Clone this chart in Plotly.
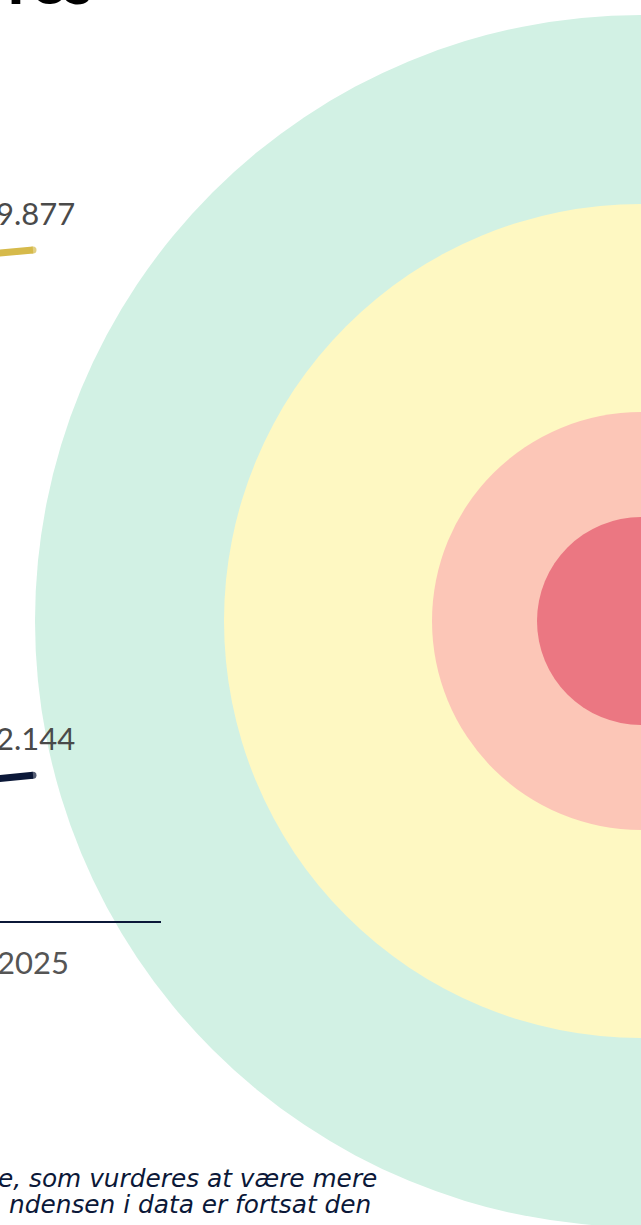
import plotly.graph_objects as go

W, H = 641, 1225

# ---- data ----
years = [2024, 2025]
series_gold = [9795, 9877]
series_navy = [2062, 2144]
label_gold = "9.877"
label_navy = "2.144"
tick_years = [2025]
tick_labels = ["2025"]

# concentric decorative circles (radius in px) and colours
ring_radii = [606, 417, 209, 104]
ring_colors = ["#d2f1e4", "#fef8c2", "#fcc6b7", "#eb7782"]

title_fragment = "res"
note_lines = ["e, som vurderes at være mere", "ndensen i data er fortsat den"]

GOLD = "#d6ba4b"
NAVY = "#0b1838"
GREY = "#4a4a4a"

# ---- geometry helpers (pixel -> paper) ----
def px(x):
    return x / W

def py(y):
    return (H - y) / H

cx, cy = 641, 621
shapes = []
for r, c in zip(ring_radii, ring_colors):
    shapes.append(dict(type="circle", xref="paper", yref="paper",
                       x0=px(cx - r), x1=px(cx + r), y0=py(cy + r), y1=py(cy - r),
                       fillcolor=c, line=dict(width=0), layer="below"))

# axes placement
axis_y = 921          # pixel y of value 0
unit = (921 - 250) / 9877.0   # px per unit
ymax = 12000
x_end_px = 33
px_per_year = 60
plot_right = 161
xr = [2025 - x_end_px / px_per_year, 2025 + (plot_right - x_end_px) / px_per_year]

fig = go.Figure()
for vals, col, lab in [(series_gold, GOLD, label_gold), (series_navy, NAVY, label_navy)]:
    fig.add_trace(go.Scatter(
        x=years, y=vals, mode="lines+markers",
        line=dict(color=col, width=7),
        marker=dict(color=col, size=[0, 7], line=dict(width=0)),
        hoverinfo="skip", showlegend=False, cliponaxis=True))
    fig.add_annotation(x=years[-1], y=vals[-1], xref="x", yref="y", text=lab,
                       showarrow=False, xanchor="center", yanchor="middle", yshift=37, xshift=2,
                       font=dict(family="Lato", size=31, color=GREY))

fig.add_annotation(x=px(95), y=py(19), xref="paper", yref="paper", text=title_fragment,
                   showarrow=False, xanchor="right", yanchor="bottom",
                   font=dict(family="Lato", size=63, color="#000000", weight=900))

note_ends = [379, 373]
note_base = [1189, 1215]
for t, xe, yb in zip(note_lines, note_ends, note_base):
    fig.add_annotation(x=px(xe), y=py(yb + 6), xref="paper", yref="paper", text="<i>" + t + "</i>",
                       showarrow=False, xanchor="right", yanchor="bottom",
                       font=dict(family="DejaVu Sans", size=24.8, color=NAVY))

fig.update_layout(
    width=W, height=H, margin=dict(l=0, r=0, t=0, b=0, autoexpand=False),
    paper_bgcolor="white", plot_bgcolor="rgba(0,0,0,0)",
    shapes=shapes, showlegend=False,
    xaxis=dict(domain=[0, px(plot_right)], range=xr, showgrid=False, zeroline=False,
               showline=True, linecolor=NAVY, linewidth=1.5, automargin=False,
               tickvals=tick_years, ticktext=tick_labels, ticks="",
               ticklabelstandoff=14, ticklabeloverflow="allow",
               tickfont=dict(family="Lato", size=31, color="#555555")),
    yaxis=dict(domain=[py(axis_y), py(axis_y - ymax * unit)], range=[0, ymax], automargin=False,
               showgrid=False, zeroline=False, showline=False, showticklabels=False, ticks=""),
)

fig.write_html("out.html", config={"displayModeBar": False},
               post_script="document.body.style.margin='0px';document.body.style.overflow='hidden';")
